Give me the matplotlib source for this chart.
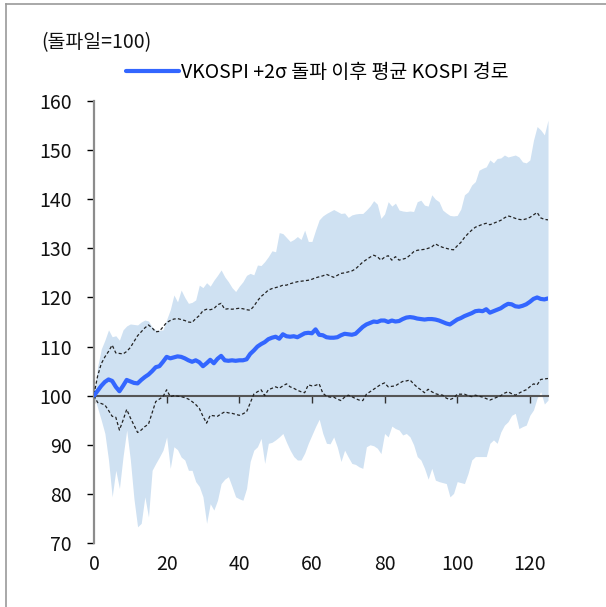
import numpy as np
import matplotlib
matplotlib.use("Agg")
import matplotlib.pyplot as plt
from matplotlib.lines import Line2D

plt.rcParams['font.family'] = ['Noto Sans CJK KR', 'DejaVu Sans']

## data (days after breakout, KOSPI index, breakout day = 100)
days = np.arange(126)

mean_path = [
    100.0, 101.0, 102.0, 102.8, 103.3, 103.0, 101.8, 100.9, 102.0, 103.2,
    102.9, 102.6, 102.5, 103.2, 103.8, 104.3, 105.0, 105.8, 106.0, 106.9,
    107.9, 107.6, 107.8, 108.0, 107.9, 107.6, 107.2, 106.9, 107.2, 106.8,
    106.0, 106.6, 107.3, 106.6, 107.5, 108.1, 107.2, 107.1, 107.2, 107.1,
    107.2, 107.2, 107.4, 108.5, 109.2, 110.0, 110.5, 110.9, 111.5, 111.8,
    112.0, 111.6, 112.5, 112.1, 112.0, 112.1, 111.9, 112.3, 112.7, 112.8,
    112.7, 113.5, 112.4, 112.3, 111.9, 111.8, 111.8, 111.9, 112.3, 112.6,
    112.5, 112.4, 112.6, 113.3, 114.0, 114.5, 114.8, 115.1, 115.0, 115.3,
    115.3, 115.0, 115.3, 115.1, 115.2, 115.6, 115.9, 116.0, 115.9, 115.7,
    115.6, 115.5, 115.6, 115.6, 115.5, 115.3, 115.0, 114.7, 114.5, 115.0,
    115.5, 115.8, 116.2, 116.5, 116.8, 117.2, 117.3, 117.2, 117.6, 116.9,
    117.2, 117.5, 117.8, 118.3, 118.7, 118.6, 118.2, 118.1, 118.3, 118.6,
    119.1, 119.7, 120.0, 119.7, 119.6, 119.8,
]

upper_1s = [
    100.3, 104.0, 106.5, 107.9, 109.0, 110.3, 108.7, 108.6, 108.5, 109.0,
    109.8, 111.0, 112.2, 113.0, 113.8, 114.4, 113.8, 113.0, 113.1, 114.0,
    114.9, 115.3, 115.6, 115.7, 115.5, 115.3, 115.0, 114.9, 115.7, 116.3,
    117.3, 117.6, 117.5, 117.7, 118.5, 118.8, 117.6, 117.7, 117.6, 117.7,
    117.8, 117.7, 117.5, 117.4, 118.2, 119.3, 120.2, 120.8, 121.5, 121.8,
    122.0, 122.2, 122.5, 122.5, 122.8, 123.0, 123.2, 123.3, 123.4, 123.5,
    123.7, 124.0, 124.2, 124.4, 124.7, 124.4, 124.1, 124.5, 124.9, 125.0,
    125.2, 125.4, 125.8, 126.5, 127.2, 127.7, 128.2, 128.6, 128.3, 127.6,
    128.2, 128.5, 127.6, 128.3, 127.6, 127.8, 128.0, 128.6, 129.3, 129.6,
    129.7, 129.8, 130.0, 130.3, 130.9, 130.5, 130.2, 130.0, 129.8, 129.7,
    130.5, 131.2, 132.2, 133.0, 133.7, 134.3, 134.6, 134.9, 135.1, 134.8,
    135.1, 135.4, 135.7, 136.2, 136.6, 136.4, 136.1, 135.9, 135.8, 136.0,
    136.3, 136.8, 137.3, 136.2, 135.9, 135.8,
]

lower_1s = [
    100.0, 98.6, 98.4, 98.1, 97.0, 95.8, 95.6, 93.0, 95.0, 97.2,
    95.5, 94.0, 92.5, 93.0, 93.7, 94.2, 96.5, 98.8, 99.3, 99.8,
    101.2, 99.8, 100.0, 99.9, 99.8, 99.6, 99.3, 98.8, 98.2, 97.4,
    95.8, 94.4, 96.0, 95.9, 95.8, 96.3, 96.7, 96.5, 96.4, 96.2,
    96.0, 96.3, 96.7, 98.5, 100.3, 100.8, 101.2, 100.0, 101.2, 101.5,
    101.8, 101.5, 102.0, 102.4, 101.8, 101.5, 101.1, 100.8, 100.6, 102.2,
    102.0, 102.1, 102.4, 100.5, 99.9, 99.7, 99.7, 99.3, 99.0, 99.7,
    100.1, 99.8, 99.4, 99.1, 99.0, 100.3, 100.8, 101.3, 101.8, 102.3,
    102.6, 101.8, 101.9, 102.0, 102.5, 102.9, 103.0, 103.2, 102.4, 101.7,
    101.2, 100.6, 101.3, 100.8, 100.4, 100.2, 100.1, 99.5, 99.2, 99.5,
    100.3, 100.3, 100.3, 100.0, 99.8, 100.1, 99.9, 99.7, 99.4, 99.1,
    99.4, 99.7, 100.0, 100.5, 100.8, 100.4, 100.1, 100.5, 100.9, 101.2,
    101.8, 102.4, 102.2, 103.3, 103.4, 103.5,
]

band_high = [
    100.0, 105.9, 109.5, 111.3, 113.4, 112.0, 112.2, 111.3, 113.4, 114.2,
    114.6, 114.5, 114.4, 115.0, 115.4, 115.2, 114.0, 113.4, 113.3, 113.4,
    115.5, 117.5, 120.5, 119.1, 121.5, 120.0, 118.8, 119.0, 119.5, 122.5,
    122.0, 123.0, 122.3, 123.5, 124.5, 125.6, 124.2, 123.2, 122.0, 121.2,
    122.3, 123.2, 124.5, 124.9, 124.6, 126.6, 126.5, 127.3, 128.3, 129.5,
    129.3, 133.2, 133.0, 132.2, 131.4, 131.8, 132.4, 131.8, 133.7, 131.4,
    131.4, 133.7, 135.8, 136.6, 137.1, 137.5, 137.9, 137.5, 137.1, 137.2,
    136.3, 136.8, 137.0, 137.1, 137.1, 137.8, 138.6, 139.7, 139.0, 136.1,
    137.0, 139.5, 138.6, 139.2, 137.8, 137.6, 137.5, 137.6, 137.5, 139.5,
    139.8, 138.8, 138.6, 140.9, 140.0, 139.5, 137.8, 137.2, 136.7, 136.6,
    136.7, 138.0, 140.9, 141.5, 142.9, 143.6, 145.9, 146.3, 146.6, 148.0,
    147.4, 148.3, 148.4, 149.0, 148.6, 148.8, 149.0, 148.6, 147.6, 147.4,
    148.0, 152.0, 154.8, 154.1, 153.1, 156.1,
]

band_low = [
    100.0, 97.5, 95.0, 92.3, 86.9, 79.4, 84.8, 81.1, 87.6, 93.0,
    87.0, 79.0, 73.3, 74.0, 79.4, 75.3, 84.8, 86.2, 87.5, 88.9,
    91.6, 85.2, 89.6, 89.0, 87.5, 86.9, 84.8, 84.8, 82.5, 81.5,
    79.4, 74.0, 78.0, 76.7, 78.7, 82.1, 83.0, 83.5, 81.5, 79.4,
    79.0, 78.7, 81.1, 86.6, 88.9, 89.6, 91.3, 86.2, 90.3, 90.5,
    91.0, 91.6, 92.3, 90.5, 88.9, 87.6, 86.9, 86.9, 88.3, 90.3,
    92.0, 93.7, 95.2, 92.3, 90.3, 90.2, 91.6, 89.5, 86.6, 88.9,
    87.5, 86.2, 86.0, 85.5, 85.2, 89.6, 90.0, 89.8, 89.3, 88.2,
    92.3, 91.6, 93.8, 93.3, 93.0, 92.0, 92.3, 91.6, 90.0, 87.6,
    86.9, 85.2, 83.0, 85.2, 82.8, 82.5, 82.3, 82.1, 79.4, 80.1,
    82.5, 82.3, 82.1, 84.2, 86.9, 87.6, 87.6, 87.6, 87.6, 90.3,
    91.0, 90.3, 92.6, 94.0, 94.7, 96.0, 96.4, 93.3, 93.7, 94.0,
    96.0, 97.1, 99.5, 100.8, 98.3, 99.1,
]

title_txt = '(돌파일=100)'
legend_txt = 'VKOSPI +2σ 돌파 이후 평균 KOSPI 경로'

## figure
fig = plt.figure(figsize=(6.06, 6.07), dpi=100)
ax = fig.add_axes([94/606, 1-543/607, (548-94)/606, (543-101)/607])

ax.fill_between(days, band_low, band_high, color='#cfe1f2', lw=0, zorder=1)
ax.plot(days, upper_1s, color='#222222', lw=0.9, ls=(0, (2.5, 1.8)), zorder=3)
ax.plot(days, lower_1s, color='#222222', lw=0.9, ls=(0, (2.5, 1.8)), zorder=3)
line_mean, = ax.plot(days, mean_path, color='#3366ff', lw=3.0, zorder=4,
                     solid_capstyle='round')

ax.set_xlim(0, 125)
ax.set_ylim(70, 160)
ax.set_yticks(np.arange(70, 161, 10))
ax.set_xticks(np.arange(0, 121, 20))

for s in ['top', 'right']:
    ax.spines[s].set_visible(False)
ax.spines['left'].set_color('#8c8c8c')
ax.spines['left'].set_linewidth(1.6)
ax.spines['bottom'].set_position(('data', 100))
ax.spines['bottom'].set_color('#555555')
ax.spines['bottom'].set_linewidth(1.5)
ax.spines['bottom'].set_zorder(2)

ax.tick_params(axis='y', direction='out', length=5, width=1, color='black',
               labelsize=14, pad=11, labelcolor='#111111')
ax.tick_params(axis='x', direction='out', length=5, width=1, color='#333333',
               labelbottom=False)

## tick labels sit at the bottom while the axis crosses at 100
sec = ax.secondary_xaxis('bottom')
sec.set_xticks(np.arange(0, 121, 20))
sec.spines['bottom'].set_visible(False)
sec.tick_params(length=0, labelsize=14, pad=8, labelcolor='#111111')

fig.text(41/606, 1-43/607, title_txt, fontsize=14, va='center', ha='left',
         color='#111111')

fig.legend([line_mean], [legend_txt], loc='center left',
           bbox_to_anchor=(126/606, 1-72/607), frameon=False, fontsize=14,
           borderpad=0, borderaxespad=0, handlelength=2.7, handletextpad=0.15)

## outer frame (left and top edge)
fig.add_artist(Line2D([6/606, 6/606], [0, 1-4/607], transform=fig.transFigure,
                      color='#9a9a9a', lw=1.2))
fig.add_artist(Line2D([6/606, 1], [1-4/607, 1-4/607], transform=fig.transFigure,
                      color='#9a9a9a', lw=1.2))

fig.savefig('out.png', dpi=100)
